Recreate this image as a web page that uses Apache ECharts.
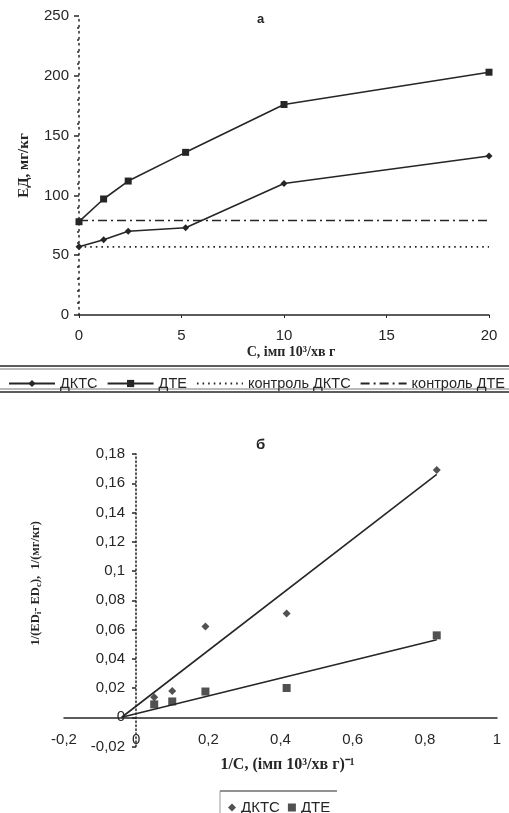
<!DOCTYPE html>
<html>
<head>
<meta charset="utf-8">
<script src="https://cdn.jsdelivr.net/npm/echarts@6/dist/echarts.min.js"></script>
<style>
html,body{margin:0;padding:0;background:#fff;}
#c{width:509px;height:813px;}
</style>
</head>
<body>
<div id="c"></div>
<script>
// ---- Chart a: ED vs C ----
const concC = [0, 1.2, 2.4, 5.2, 10, 20];
const edDKTS = [57, 63, 70, 73, 110, 133];
const edDTE = [78, 97, 112, 136, 176, 203];
const controlDKTS = 57;
const controlDTE = 79;
const controlRange = [0, 20];

// ---- Chart б: 1/(EDi-EDc) vs 1/C ----
const invC = [0.05, 0.1, 0.192, 0.417, 0.833];
const invDKTS = [0.0136, 0.018, 0.062, 0.071, 0.169];
const invDTE = [0.0088, 0.0108, 0.0176, 0.020, 0.056];
const trendX = [-0.04, 0.833];
const trendDKTS = [0, 0.166];
const trendDTE = [0, 0.053];

const INK = '#262626';
const comma = v => String(Math.round(v * 1000) / 1000).replace('.', ',');

const chart = echarts.init(document.getElementById('c'));
const pairs = (xs, ys) => xs.map((x, i) => [x, ys[i]]);

chart.setOption({
  backgroundColor: '#ffffff',
  animation: false,
  textStyle: {fontFamily: 'Liberation Sans', color: INK},
  title: [
    {text: 'а', left: 252, top: 8, textStyle: {fontSize: 13, fontWeight: 'bold', color: INK, fontFamily: 'Liberation Sans'}},
    {text: 'б', left: 251, top: 432, textStyle: {fontSize: 15, fontWeight: 'bold', color: INK, fontFamily: 'Liberation Sans'}}
  ],
  grid: [
    {left: 79, top: 16, width: 410, height: 299, outerBoundsMode: 'none', containLabel: false},
    {left: 64, top: 454, width: 433, height: 292.5, outerBoundsMode: 'none', containLabel: false}
  ],
  xAxis: [
    {
      gridIndex: 0, type: 'value', min: 0, max: 20, interval: 5,
      name: 'C, імп 10³/хв г', nameLocation: 'middle', nameGap: 30,
      nameTextStyle: {fontFamily: 'Liberation Serif', fontWeight: 'bold', fontSize: 14, color: INK, padding: [0, 0, 0, 14]},
      axisLine: {lineStyle: {color: INK, width: 1.5}},
      axisTick: {length: 3, lineStyle: {color: INK}},
      axisLabel: {fontSize: 15, color: INK, margin: 13},
      splitLine: {show: false}
    },
    {
      gridIndex: 1, type: 'value', min: -0.2, max: 1, interval: 0.2,
      position: 'bottom', offset: -29.25,
      name: '1/C, (імп 10³/хв г)⁻¹', nameLocation: 'middle', nameGap: 40,
      nameTextStyle: {fontFamily: 'Liberation Serif', fontWeight: 'bold', fontSize: 16, color: INK, padding: [0, 0, 0, 14]},
      axisLine: {onZero: false, lineStyle: {color: INK, width: 1.5}},
      axisTick: {show: false},
      axisLabel: {fontSize: 15, color: INK, margin: 15, formatter: comma},
      splitLine: {show: false}
    }
  ],
  yAxis: [
    {
      gridIndex: 0, type: 'value', min: 0, max: 250, interval: 50,
      name: 'ЕД, мг/кг', nameLocation: 'middle', nameGap: 47,
      nameTextStyle: {fontFamily: 'Liberation Serif', fontWeight: 'bold', fontSize: 15, color: INK},
      axisLine: {lineStyle: {color: INK, width: 1.5, type: [1.5, 4.5]}},
      axisTick: {length: 5, lineStyle: {color: INK, width: 1.5}},
      minorTick: {show: true, splitNumber: 5, length: 2, lineStyle: {color: INK, width: 1.5}},
      axisLabel: {fontSize: 15, color: INK, margin: 10},
      splitLine: {show: false}
    },
    {
      gridIndex: 1, type: 'value', min: -0.02, max: 0.18, interval: 0.02,
      position: 'left', offset: -72,
      name: '1/(ED{s|i}- ED{s|c}),  1/(мг/кг)', nameLocation: 'middle', nameGap: 93,
      nameTextStyle: {fontFamily: 'Liberation Serif', fontWeight: 'bold', fontSize: 12.5, color: INK,
        padding: [0, 0, 0, 34],
        rich: {s: {fontFamily: 'Liberation Serif', fontWeight: 'bold', fontSize: 9, color: INK, padding: [6, 0, 0, 0]}}},
      axisLine: {onZero: false, lineStyle: {color: INK, width: 1.5, type: [1.5, 2.5]}},
      axisTick: {length: 4, lineStyle: {color: INK, width: 1.5}},
      axisLabel: {fontSize: 15, color: INK, margin: 11, formatter: comma},
      splitLine: {show: false}
    }
  ],
  legend: [
    {
      left: 3, top: 371, width: 506, itemWidth: 46, itemHeight: 9, itemGap: 9,
      textStyle: {fontSize: 14.5, color: INK, fontFamily: 'Liberation Sans'},
      data: ['ДКТС', 'ДТЕ',
        {name: 'контроль ДКТС', itemStyle: {opacity: 0}},
        {name: 'контроль ДТЕ', itemStyle: {opacity: 0}}]
    },
    {
      left: 223, top: 795, itemWidth: 8, itemHeight: 8, itemGap: 8,
      textStyle: {fontSize: 15, color: INK, fontFamily: 'Liberation Sans'},
      data: [{name: 'ДКТС (б)', icon: 'diamond'}, {name: 'ДТЕ (б)', icon: 'rect'}],
      formatter: n => n.replace(' (б)', '')
    }
  ],
  graphic: [
    {type: 'line', shape: {x1: 0, y1: 366, x2: 509, y2: 366}, style: {stroke: INK, lineWidth: 1.5}},
    {type: 'line', shape: {x1: 0, y1: 369, x2: 509, y2: 369}, style: {stroke: '#777', lineWidth: 1}},
    {type: 'line', shape: {x1: 0, y1: 389, x2: 509, y2: 389}, style: {stroke: '#777', lineWidth: 1}},
    {type: 'line', shape: {x1: 0, y1: 392, x2: 509, y2: 392}, style: {stroke: INK, lineWidth: 1.5}},
    {type: 'line', shape: {x1: 220, y1: 791, x2: 337, y2: 791}, style: {stroke: INK, lineWidth: 1.2}},
    {type: 'line', shape: {x1: 220, y1: 791, x2: 220, y2: 813}, style: {stroke: '#999', lineWidth: 1}}
  ],
  series: [
    {
      name: 'ДКТС', type: 'line', xAxisIndex: 0, yAxisIndex: 0,
      data: pairs(concC, edDKTS), symbol: 'diamond', symbolSize: 7,
      lineStyle: {color: INK, width: 1.6}, itemStyle: {color: INK}
    },
    {
      name: 'ДТЕ', type: 'line', xAxisIndex: 0, yAxisIndex: 0,
      data: pairs(concC, edDTE), symbol: 'rect', symbolSize: 7,
      lineStyle: {color: INK, width: 1.6}, itemStyle: {color: INK}
    },
    {
      name: 'контроль ДКТС', type: 'line', xAxisIndex: 0, yAxisIndex: 0,
      data: controlRange.map(x => [x, controlDKTS]), symbol: 'none',
      lineStyle: {color: INK, width: 1.6, type: [1.6, 4]}, itemStyle: {color: INK}
    },
    {
      name: 'контроль ДТЕ', type: 'line', xAxisIndex: 0, yAxisIndex: 0,
      data: controlRange.map(x => [x, controlDTE]), symbol: 'none',
      lineStyle: {color: INK, width: 1.6, type: [9, 4, 2, 4]}, itemStyle: {color: INK}
    },
    {
      name: 'trend ДКТС', type: 'line', xAxisIndex: 1, yAxisIndex: 1,
      data: pairs(trendX, trendDKTS), symbol: 'none',
      lineStyle: {color: INK, width: 1.6}, silent: true
    },
    {
      name: 'trend ДТЕ', type: 'line', xAxisIndex: 1, yAxisIndex: 1,
      data: pairs(trendX, trendDTE), symbol: 'none',
      lineStyle: {color: INK, width: 1.6}, silent: true
    },
    {
      name: 'ДКТС (б)', type: 'scatter', xAxisIndex: 1, yAxisIndex: 1,
      data: pairs(invC, invDKTS), symbol: 'diamond', symbolSize: 8,
      itemStyle: {color: INK}
    },
    {
      name: 'ДТЕ (б)', type: 'scatter', xAxisIndex: 1, yAxisIndex: 1,
      data: pairs(invC, invDTE), symbol: 'rect', symbolSize: 8,
      itemStyle: {color: INK}
    }
  ]
});
</script>
</body>
</html>
